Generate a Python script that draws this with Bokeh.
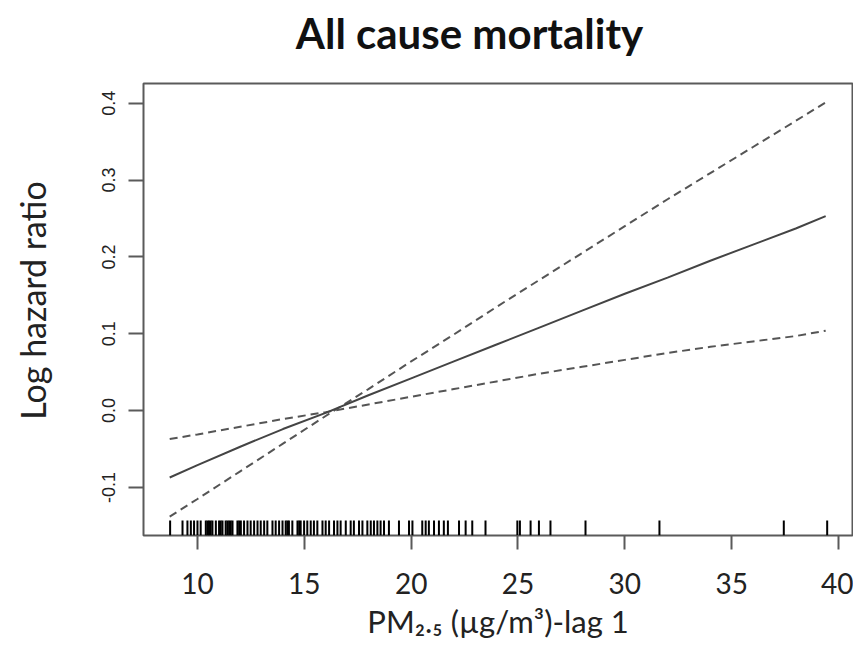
from bokeh.plotting import figure
from bokeh.models import (Range1d, FixedTicker, NumeralTickFormatter, ColumnDataSource,
                          LinearAxis)
from bokeh.embed import file_html
from bokeh.resources import INLINE

# ---------------- data ----------------
pm25 = [8.7, 10, 12, 14, 16, 18, 20, 22, 24, 26, 28, 30, 32, 34, 36, 38, 39.4]
log_hr = [-0.087, -0.071, -0.047, -0.024, -0.003, 0.020, 0.042, 0.064, 0.086,
          0.108, 0.130, 0.152, 0.173, 0.195, 0.216, 0.237, 0.253]
ci_upper = [-0.138, -0.115, -0.079, -0.043, -0.007, 0.028, 0.064, 0.099, 0.135,
            0.170, 0.205, 0.240, 0.275, 0.309, 0.343, 0.377, 0.401]
ci_lower = [-0.037, -0.031, -0.021, -0.011, -0.002, 0.008, 0.018, 0.028, 0.038,
            0.048, 0.057, 0.066, 0.075, 0.083, 0.090, 0.097, 0.104]

rug_pm25 = [8.72, 9.30, 9.53, 9.69, 9.84, 10.00, 10.15, 10.39, 10.47, 10.54, 10.62,
            10.70, 10.86, 11.01, 11.09, 11.17, 11.32, 11.40, 11.48, 11.56, 11.64,
            11.87, 11.95, 12.03, 12.18, 12.34, 12.49, 12.65, 12.81, 12.96, 13.12,
            13.27, 13.51, 13.66, 13.82, 13.98, 14.13, 14.21, 14.28, 14.44, 14.68,
            14.76, 14.83, 14.99, 15.14, 15.30, 15.45, 15.61, 15.85, 16.00, 16.16,
            16.39, 16.55, 16.70, 16.94, 17.17, 17.32, 17.56, 17.72, 17.95, 18.11,
            18.26, 18.42, 18.57, 18.73, 18.96, 19.43, 19.90, 20.06, 20.52, 20.68,
            20.83, 21.07, 21.30, 21.53, 21.72, 22.24, 22.55, 22.86, 23.48, 24.97,
            25.09, 25.59, 25.98, 26.52, 28.16, 31.62, 37.44, 39.47]

x_ticks = [10, 15, 20, 25, 30, 35, 40]
y_ticks = [-0.1, 0.0, 0.1, 0.2, 0.3, 0.4]

title_text = "All cause mortality"
y_title = "Log hazard ratio"
x_title = "PM\u2082.\u2085 (\u00b5g/m\u00b3)-lag 1"

# ---------------- layout ----------------
W, H = 853, 648
BL, BR, BT, BB = 143, 1, 83, 113
X0, X1 = 7.474, 40.655
Y0, Y1 = -0.1625, 0.4256
FW = W - BL - BR
FH = H - BT - BB
PXX = FW / (X1 - X0)
PXY = FH / (Y1 - Y0)
# anchor positions (page px) of the title and the y title centres
TITLE_X = round(X0 + (469 - BL) / PXX, 3)
YTITLE_Y = round(Y1 - (300 - BT) / PXY, 4)

p = figure(width=W, height=H, x_range=Range1d(X0, X1), y_range=Range1d(Y0, Y1),
           output_backend="svg", toolbar_location=None,
           min_border_left=BL, min_border_right=BR, min_border_top=BT,
           min_border_bottom=BB)
p.title.visible = False
p.xgrid.visible = False
p.ygrid.visible = False
p.outline_line_color = "#5a5a5a"
p.outline_line_width = 2
p.background_fill_color = "white"
p.border_fill_color = "white"

for ax in (p.xaxis, p.yaxis):
    ax.axis_line_color = None
    ax.minor_tick_line_color = None
    ax.major_tick_in = 0
    ax.major_tick_line_color = "#5a5a5a"
    ax.major_tick_line_width = 2
    ax.major_label_text_color = "#222222"
    ax.axis_label_text_font = "Lato"
    ax.axis_label_text_font_style = "normal"
    ax.axis_label_text_color = "#222222"

p.xaxis.ticker = FixedTicker(ticks=x_ticks)
p.xaxis.formatter = NumeralTickFormatter(format="0")
p.xaxis.major_tick_out = 14
p.xaxis.major_label_standoff = 23
p.xaxis.major_label_text_font = "Lato"
p.xaxis.major_label_text_font_size = "28px"
p.xaxis.axis_label = x_title
p.xaxis.axis_label_text_font_size = "31px"
p.xaxis.axis_label_standoff = 5

p.yaxis.ticker = FixedTicker(ticks=y_ticks)
p.yaxis.formatter = NumeralTickFormatter(format="0.0")
p.yaxis.major_tick_out = 15
p.yaxis.major_label_standoff = 13
p.yaxis.major_label_orientation = "vertical"
p.yaxis.major_label_text_font = "Liberation Sans"
p.yaxis.major_label_text_font_size = "18px"

# title, drawn as the single label of a bare axis above the frame
title_axis = LinearAxis(ticker=FixedTicker(ticks=[TITLE_X]),
                        major_label_overrides={TITLE_X: title_text},
                        axis_line_color=None, major_tick_line_color=None,
                        minor_tick_line_color=None, major_tick_in=0, major_tick_out=0,
                        major_label_standoff=26, major_label_text_font="Lato",
                        major_label_text_font_style="bold",
                        major_label_text_font_size="42px",
                        major_label_text_color="#111111")
p.add_layout(title_axis, "above")

# y title, drawn as the single label of a bare axis left of the tick labels
ytitle_axis = LinearAxis(ticker=FixedTicker(ticks=[YTITLE_Y]),
                         major_label_overrides={YTITLE_Y: y_title},
                         axis_line_color=None, major_tick_line_color=None,
                         minor_tick_line_color=None, major_tick_in=0, major_tick_out=0,
                         major_label_standoff=46, major_label_orientation="vertical",
                         major_label_text_font="Lato",
                         major_label_text_font_size="34px",
                         major_label_text_color="#222222")
p.add_layout(ytitle_axis, "left")

# rug
rug_len = 15 / PXY
rug_src = ColumnDataSource(dict(x=rug_pm25, y0=[Y0] * len(rug_pm25),
                                y1=[Y0 + rug_len] * len(rug_pm25)))
p.segment(x0="x", y0="y0", x1="x", y1="y1", source=rug_src,
          line_color="#000000", line_width=2)

# curves
p.line(pm25, ci_upper, line_color="#555555", line_width=2, line_dash="8 5")
p.line(pm25, ci_lower, line_color="#555555", line_width=2, line_dash="8 5")
p.line(pm25, log_hr, line_color="#444444", line_width=2)

open("out.html", "w").write(file_html(p, INLINE))
